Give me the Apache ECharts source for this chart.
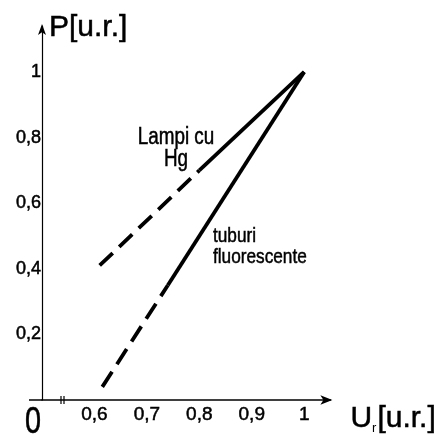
<!DOCTYPE html>
<html>
<head>
<meta charset="utf-8">
<script src="https://cdn.jsdelivr.net/npm/echarts@6/dist/echarts.min.js"></script>
<style>
html, body { margin: 0; padding: 0; background: #fff; }
#c { width: 439px; height: 437px; }
</style>
</head>
<body>
<div id="c"></div>
<script>
// Relative voltage (x) and relative power (y), both in u.r.
const xTicks = [0.6, 0.7, 0.8, 0.9, 1];
const yTicks = [0.2, 0.4, 0.6, 0.8, 1];
const xTickLabels = ['0,6', '0,7', '0,8', '0,9', '1'];
const yTickLabels = ['0,2', '0,4', '0,6', '0,8', '1'];

// Mercury lamps: extrapolated part (dashed) and measured part (solid)
const hgDashed = [[0.61, 0.41], [0.80, 0.70]];
const hgSolid = [[0.80, 0.70], [1.00, 1.00]];
// Fluorescent tubes
const fluoDashed = [[0.615, 0.04], [0.74, 0.35]];
const fluoSolid = [[0.74, 0.35], [1.00, 1.00]];

const hgText = ['Lampi cu', 'Hg'];
const fluoText = ['tuburi', 'fluorescente'];
const originText = '0';

const X_MIN = 0.5, X_MAX = 1.05;
const Y_MIN = 0, Y_MAX = 1.14;

const FONT = "'Liberation Sans', Arial, sans-serif";
const INK = '#000';

function pick(ticks, labels) {
  return function (v) {
    for (let i = 0; i < ticks.length; i++) {
      if (Math.abs(ticks[i] - v) < 1e-6) return labels[i];
    }
    return '';
  };
}

function lineSeries(data, dashed) {
  return {
    type: 'line',
    data: data,
    showSymbol: false,
    symbol: 'none',
    silent: true,
    lineStyle: {
      color: INK,
      width: 3.8,
      type: dashed ? [18, 9] : 'solid',
      cap: 'butt'
    },
    z: 3
  };
}

const chart = echarts.init(document.getElementById('c'), null, { renderer: 'canvas' });

chart.setOption({
  animation: false,
  backgroundColor: '#fff',
  grid: { left: 42, right: 103, top: 26, bottom: 37, containLabel: false },
  xAxis: {
    type: 'value',
    min: X_MIN,
    max: X_MAX,
    interval: 0.1,
    splitLine: { show: false },
    axisTick: { show: false },
    axisLine: {
      show: true,
      onZero: false,
      symbol: ['none', 'arrow'],
      symbolSize: [7, 12],
      symbolOffset: [0, 2],
      lineStyle: { color: INK, width: 1.5 }
    },
    axisLabel: {
      formatter: pick(xTicks, xTickLabels),
      color: INK,
      fontFamily: FONT,
      fontSize: 19,
      textBorderColor: INK,
      textBorderWidth: 0.5,
      margin: 5,
      showMinLabel: false
    },
    name: '{a|U}{b|r}{a|[u.r.]}',
    nameLocation: 'end',
    nameGap: 20,
    nameTextStyle: {
      verticalAlign: 'middle',
      padding: [38, 0, 0, 0],
      rich: {
        a: { fontFamily: FONT, fontSize: 30, color: INK, lineHeight: 32, textBorderColor: INK, textBorderWidth: 0.5 },
        b: { fontFamily: FONT, fontSize: 13, color: INK, verticalAlign: 'bottom', lineHeight: 32, padding: [0, 1, 0, 0] }
      }
    }
  },
  yAxis: {
    type: 'value',
    min: Y_MIN,
    max: Y_MAX,
    interval: 0.2,
    splitLine: { show: false },
    axisTick: { show: false },
    axisLine: {
      show: true,
      onZero: false,
      symbol: ['none', 'arrow'],
      symbolSize: [6, 11],
      symbolOffset: [0, 2],
      lineStyle: { color: INK, width: 1.2 }
    },
    axisLabel: {
      formatter: pick(yTicks, yTickLabels),
      color: INK,
      fontFamily: FONT,
      fontSize: 18,
      textBorderColor: INK,
      textBorderWidth: 0.5,
      margin: 1,
      showMinLabel: false
    },
    name: 'P[u.r.]',
    nameLocation: 'end',
    nameGap: -2,
    nameTextStyle: {
      fontFamily: FONT,
      fontSize: 30,
      color: INK,
      textBorderColor: INK,
      textBorderWidth: 0.5,
      align: 'left',
      verticalAlign: 'middle',
      padding: [0, 0, 0, 7]
    }
  },
  series: [
    lineSeries(hgDashed, true),
    lineSeries(hgSolid, false),
    lineSeries(fluoDashed, true),
    lineSeries(fluoSolid, false)
  ]
});

// Origin marker, axis break and curve captions
const o = chart.convertToPixel({ gridIndex: 0 }, [X_MIN, Y_MIN]);
const ox = o[0], oy = o[1];

function txt(text, x, y, size, align, sx) {
  return {
    type: 'text',
    x: x, y: y,
    scaleX: sx,
    silent: true,
    style: {
      text: text,
      fill: INK,
      stroke: INK,
      lineWidth: 0.5,
      fontFamily: FONT,
      fontSize: size,
      align: align, textAlign: align,
      verticalAlign: 'top', textVerticalAlign: 'top'
    },
    z: 10
  };
}

function seg(x1, y1, x2, y2, w) {
  return {
    type: 'line',
    silent: true,
    shape: { x1: x1, y1: y1, x2: x2, y2: y2 },
    style: { stroke: INK, lineWidth: w },
    z: 10
  };
}

chart.setOption({
  graphic: [
    seg(ox - 13, oy, ox, oy, 1.5),
    seg(ox + 19, oy - 4, ox + 19, oy + 4, 1.2),
    seg(ox + 22, oy - 4, ox + 22, oy + 4, 1.2),
    txt(originText, ox - 9, oy + 5, 36, 'center', 0.8),
    txt(hgText[0], 176, 126, 23, 'center', 0.82),
    txt(hgText[1], 176, 148, 23, 'center', 0.82),
    txt(fluoText[0], 213, 226, 21, 'left', 0.82),
    txt(fluoText[1], 213, 247, 21, 'left', 0.82)
  ]
});
</script>
</body>
</html>
